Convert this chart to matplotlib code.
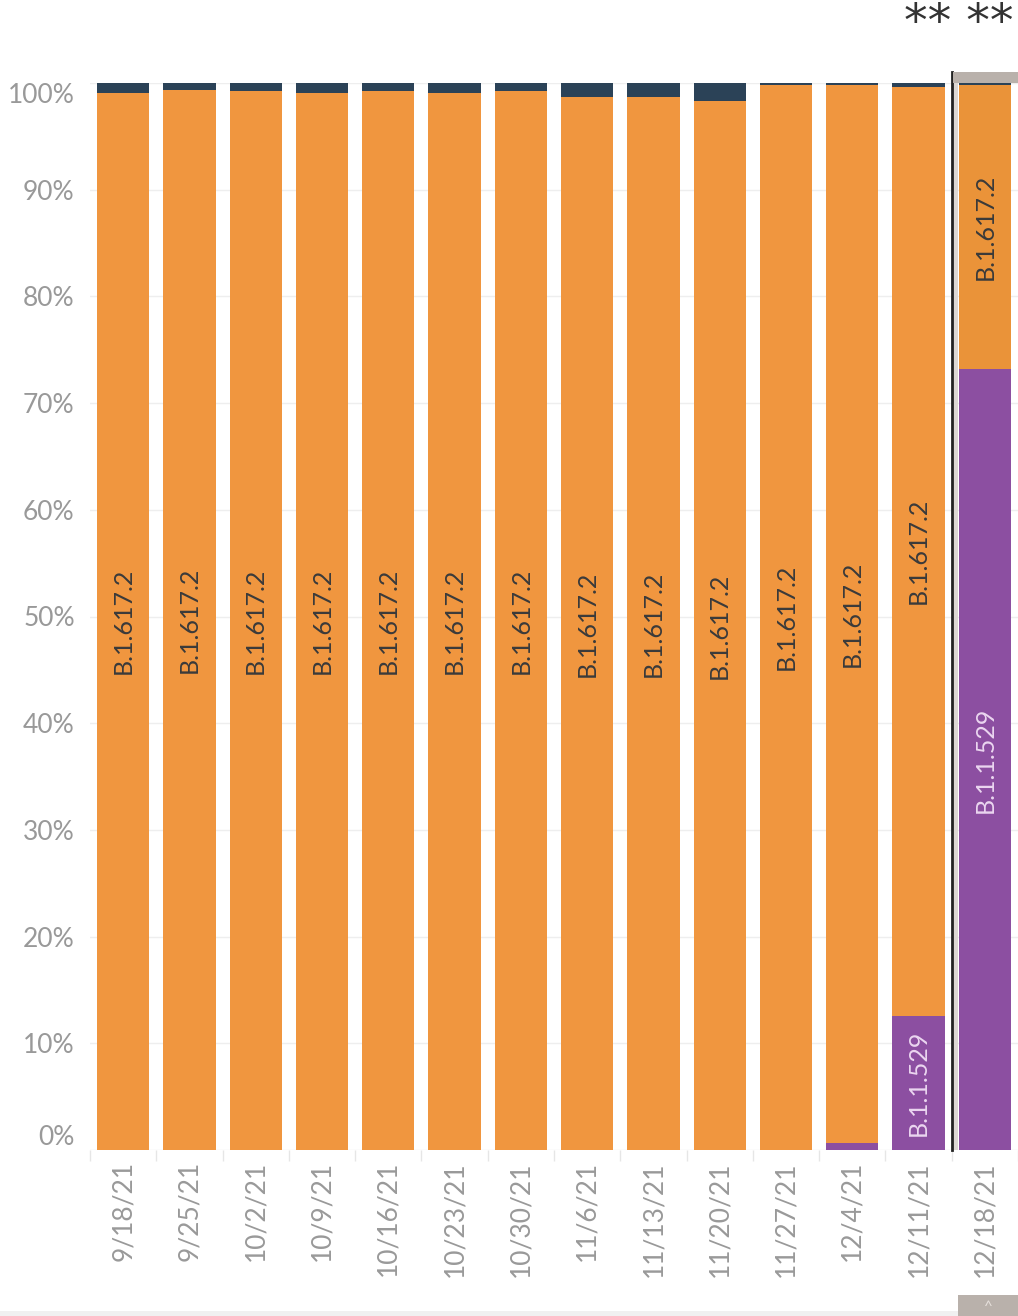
import matplotlib
matplotlib.use("Agg")
import matplotlib.pyplot as plt
from matplotlib.patches import Rectangle
import numpy as np

dates = ['9/18/21', '9/25/21', '10/2/21', '10/9/21', '10/16/21', '10/23/21', '10/30/21',
         '11/6/21', '11/13/21', '11/20/21', '11/27/21', '12/4/21', '12/11/21', '12/18/21']
omicron = [0, 0, 0, 0, 0, 0, 0, 0, 0, 0, 0, 0.65, 12.6, 73.2]
delta = [99.1, 99.35, 99.25, 99.1, 99.25, 99.1, 99.25, 98.7, 98.7, 98.3, 99.85, 99.2, 87.05, 26.6]
other = [0.9, 0.65, 0.75, 0.9, 0.75, 0.9, 0.75, 1.3, 1.3, 1.7, 0.15, 0.15, 0.35, 0.2]
yticks = [0, 10, 20, 30, 40, 50, 60, 70, 80, 90, 100]

ORANGE = '#F0963F'
ORANGE_HL = '#EA9339'
NAVY = '#2B4257'
PURPLE = '#8C4FA1'
GRID = '#EEEEEE'
TICK = '#999999'

plt.rcParams['font.family'] = ['Lato', 'DejaVu Sans']

W, H = 1018, 1316
fig = plt.figure(figsize=(W / 100, H / 100), dpi=100)
ax = fig.add_axes([90 / W, 166 / H, (W - 90) / W, 1067 / H])

x = np.arange(len(dates))
om = np.array(omicron)
de = np.array(delta)
ot = np.array(other)
dcol = [ORANGE] * (len(dates) - 1) + [ORANGE_HL]

ax.bar(x, om, width=0.79, color=PURPLE, zorder=2)
ax.bar(x, de, width=0.79, bottom=om, color=dcol, zorder=2)
ax.bar(x, ot, width=0.79, bottom=om + de, color=NAVY, zorder=2)

for i in range(len(dates)):
    ax.text(x[i], om[i] + de[i] / 2, 'B.1.617.2', rotation=90, ha='center', va='center',
            fontsize=18, color='#3A3A3A', zorder=3)
    if om[i] > 5:
        ax.text(x[i], om[i] / 2, 'B.1.1.529', rotation=90, ha='center', va='center',
                fontsize=18, color='#EBD6F0', zorder=3)

ax.set_xlim(-0.5, 13.4)
ax.set_ylim(0, 100)
ax.set_yticks(yticks)
ax.set_yticklabels([f'{v}%' for v in yticks])
ax.set_xticks(x)
ax.set_xticklabels(dates, rotation=90)
ax.set_xticks(np.arange(-0.5, len(dates), 1), minor=True)
ax.tick_params(axis='x', which='major', length=0, pad=8, labelsize=19, labelcolor=TICK)
ax.tick_params(axis='x', which='minor', length=8, color='#E6E6E6', width=1)
ax.tick_params(axis='y', length=0, pad=11, labelsize=19, labelcolor=TICK)
for lab in ax.get_yticklabels():
    if lab.get_text() == '100%':
        lab.set_va('top')
    elif lab.get_text() == '0%':
        lab.set_va('bottom')
        lab.set_y(1.5)

ax.grid(axis='y', color=GRID, linewidth=1, zorder=0)
ax.set_axisbelow(True)
for s in ax.spines.values():
    s.set_visible(False)

# highlight frame around the last week
ax.add_patch(Rectangle((12.5, 0), 0.1, 100, facecolor='#DCD7D3', edgecolor='none', zorder=1))
ax.plot([12.5, 12.5], [0, 101.03], color='#222222', linewidth=2, clip_on=False, zorder=4)
ax.add_patch(Rectangle((12.52, 100), 1.0, 1.03, facecolor='#B9B1AB', edgecolor='none',
                       clip_on=False, zorder=4))

fig.text(1014 / W, 1 - 24 / H, '** **', ha='right', va='center', fontsize=34,
         color='#333333', family=['DejaVu Sans'])

# bottom strip and scroll button
fig.patches.append(Rectangle((0, 0), 1, 5 / H, transform=fig.transFigure,
                             facecolor='#F0F0F0', edgecolor='none'))
fig.patches.append(Rectangle((958 / W, 0), 60 / W, 21 / H, transform=fig.transFigure,
                             facecolor='#B9B1AB', edgecolor='none'))
fig.text(988 / W, 9 / H, '^', ha='center', va='center', fontsize=11, color='#E6E0DC')

fig.savefig('out.png', dpi=100)
